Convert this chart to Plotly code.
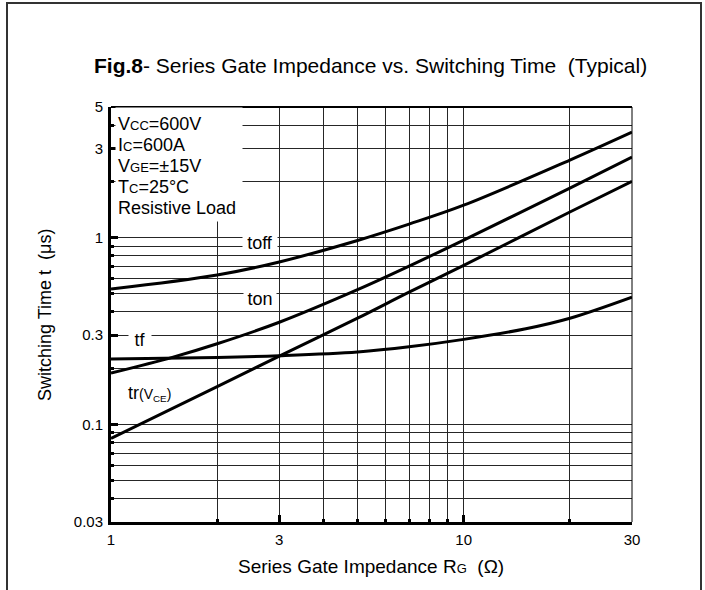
import numpy as np
import plotly.graph_objects as go

# Series gate resistance (ohm) and switching times (us)
rg_toff = [1, 2, 3, 5, 7, 10, 20, 30]
t_off = [0.53, 0.63, 0.74, 0.965, 1.18, 1.49, 2.6, 3.67]

rg_ton = [1, 1.5, 2, 3, 5, 7, 10, 20, 30]
t_on = [0.188, 0.229, 0.27, 0.352, 0.526, 0.703, 0.97, 1.84, 2.7]

rg_tf = [1, 2, 3, 5, 7, 10, 15, 20, 30]
t_f = [0.224, 0.228, 0.233, 0.244, 0.26, 0.285, 0.325, 0.37, 0.48]

rg_tr = [1, 2, 3, 5, 7, 10, 20, 30]
t_r = [0.084, 0.159, 0.232, 0.37, 0.51, 0.71, 1.37, 2.0]

x_ticks = [1, 3, 10, 30]
x_minor = [2, 4, 5, 6, 7, 8, 9, 20]
y_ticks = [0.03, 0.1, 0.3, 1, 3, 5]
y_minor = [0.04, 0.05, 0.06, 0.07, 0.08, 0.09, 0.2, 0.4, 0.5, 0.6, 0.7,
           0.8, 0.9, 2, 4]

W, H = 705, 590
L, R, T, B = 111, 73, 107, 68
PW, PH = W - L - R, H - T - B


def px(x):
    return (x - L) / PW


def py(y):
    return (H - B - y) / PH


FONT = "Liberation Sans, Arial, sans-serif"
GRID = "#262626"

fig = go.Figure()
for xs, ys in [(rg_toff, t_off), (rg_ton, t_on), (rg_tf, t_f), (rg_tr, t_r)]:
    fig.add_trace(go.Scatter(
        x=xs, y=ys, mode="lines",
        line=dict(color="black", width=3, shape="spline", smoothing=1.0),
        hoverinfo="skip", showlegend=False))

axis_common = dict(
    type="log", showline=True, linecolor="black", linewidth=3,
    ticks="inside", tickcolor="black", tickwidth=3, ticklen=7,
    showgrid=True, gridcolor=GRID, gridwidth=1, zeroline=False,
    tickfont=dict(family=FONT, size=15, color="black"),
)

fig.update_xaxes(
    **axis_common, range=[0, np.log10(30)], ticklabelstandoff=2,
    tickmode="array", tickvals=x_ticks, ticktext=[str(v) for v in x_ticks],
    minor=dict(tickmode="array", tickvals=x_minor, ticks="inside", ticklen=3,
               tickwidth=3, tickcolor="black", showgrid=True,
               gridcolor=GRID, gridwidth=1),
)
fig.update_yaxes(
    **axis_common, range=[np.log10(0.03), np.log10(5)], ticklabelstandoff=2,
    tickmode="array", tickvals=y_ticks, ticktext=[str(v) for v in y_ticks],
    minor=dict(tickmode="array", tickvals=y_minor, ticks="inside", ticklen=3,
               tickwidth=3, tickcolor="black", showgrid=True,
               gridcolor=GRID, gridwidth=1),
)

shapes = [
    # top and right plot border
    dict(type="line", xref="paper", yref="paper", x0=0, x1=1, y0=1, y1=1,
         line=dict(color="black", width=2)),
    dict(type="line", xref="paper", yref="paper", x0=1, x1=1, y0=0, y1=1,
         line=dict(color="black", width=1)),
    # outer frame
    dict(type="rect", xref="paper", yref="paper",
         x0=px(7), x1=px(701), y0=py(600), y1=py(3),
         line=dict(color="#333333", width=2), fillcolor="rgba(0,0,0,0)"),
]

annotations = []


def note(text, x, y, size=18, xanchor="center", **kw):
    annotations.append(dict(text=text, xref="paper", yref="paper",
                            x=px(x), y=py(y), showarrow=False,
                            xanchor=xanchor, yanchor="middle",
                            font=dict(family=FONT, size=size, color="black"),
                            **kw))


# white panel behind the test conditions
annotations.append(dict(text="\u00a0", xref="paper", yref="paper",
                        x=px(115), y=py(222), xanchor="left", yanchor="bottom",
                        width=126, height=113, bgcolor="white", borderpad=0,
                        showarrow=False))

note("<b>Fig.8</b>- Series Gate Impedance vs. Switching Time\u00a0\u00a0(Typical)",
     370, 65, size=21)
note("Series Gate Impedance R<span style='font-size:13px'>G</span>\u00a0\u00a0(\u03a9)",
     371, 566, size=19)
note("Switching Time t\u00a0\u00a0(\u03bcs)", 45, 315, size=18, textangle=-90)

small = "font-size:13px"
cond = [
    f"V<span style='{small}'>CC</span>=600V",
    f"I<span style='{small}'>C</span>=600A",
    f"V<span style='{small}'>GE</span>=\u00b115V",
    f"T<span style='{small}'>C</span>=25\u00b0C",
    "Resistive Load",
]
for i, line in enumerate(cond):
    note(line, 116, 124 + 21 * i, xanchor="left")

note("toff", 260, 243, bgcolor="white", width=34, height=18, borderpad=0)
note("ton", 260, 299, bgcolor="white", width=32, height=22, borderpad=0)
note("tf", 140, 340, bgcolor="white", width=22, height=18, borderpad=0)
note("tr<span style='font-size:14px'>(V<sub>CE</sub>)</span>", 149, 393)

fig.update_layout(
    width=W, height=H, margin=dict(l=L, r=R, t=T, b=B),
    paper_bgcolor="white", plot_bgcolor="white",
    shapes=shapes, annotations=annotations, showlegend=False,
)

fig.write_html("out.html")
